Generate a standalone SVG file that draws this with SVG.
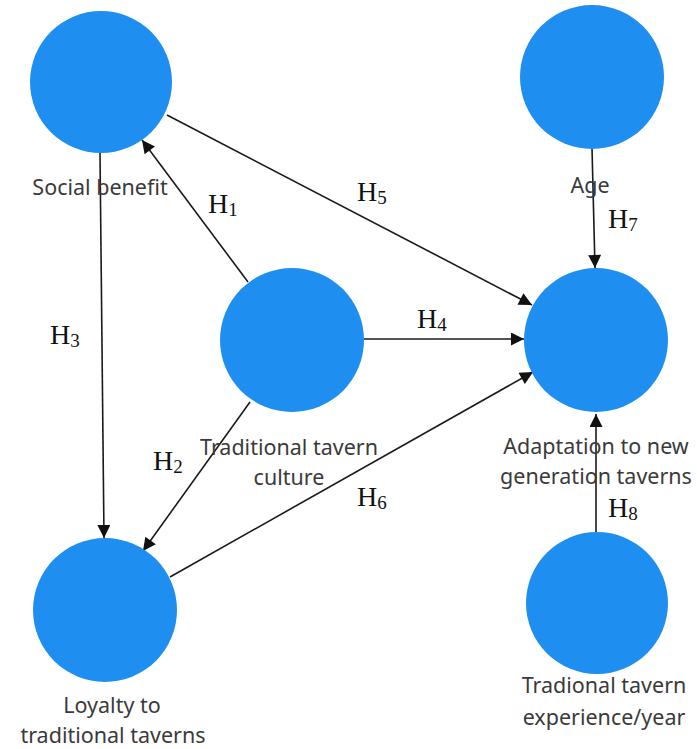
<svg xmlns="http://www.w3.org/2000/svg" width="697" height="749" viewBox="0 0 697 749">
<style>
.node{fill:#1e8ff0;}
.lbl{font-family:"Noto Sans","Open Sans",sans-serif;font-size:21.5px;fill:#3a3a3a;text-anchor:middle;}
.h{font-family:"Liberation Serif","Times New Roman",serif;font-size:28px;fill:#111;}
.sub{font-size:19px;}
.edge{stroke:#1a1a1a;stroke-width:1.6;fill:none;marker-end:url(#arr);}
</style>
<defs>
<marker id="arr" viewBox="0 0 10 10" refX="10" refY="5" markerUnits="userSpaceOnUse" markerWidth="15" markerHeight="13" orient="auto">
<path d="M0,0 L10,5 L0,10 z" fill="#111"/>
</marker>
</defs>
<rect width="697" height="749" fill="#fff"/>
<g id="connectors">
<line class="edge" x1="100" y1="153" x2="104" y2="538"/>
<line class="edge" x1="248" y1="282" x2="142" y2="140"/>
<line class="edge" x1="167" y1="115" x2="532" y2="305"/>
<line class="edge" x1="364" y1="339" x2="524" y2="339"/>
<line class="edge" x1="170" y1="577" x2="533" y2="372"/>
<line class="edge" x1="250" y1="402" x2="143" y2="551"/>
<line class="edge" x1="592" y1="148" x2="595" y2="268"/>
<line class="edge" x1="596" y1="532" x2="596" y2="414"/>
</g>
<g id="node-social">
<circle class="node" cx="101" cy="82" r="71"/>
<text class="lbl" x="100" y="195">Social benefit</text>
</g>
<g id="node-age">
<circle class="node" cx="592" cy="77" r="72"/>
<text class="lbl" x="590" y="193">Age</text>
</g>
<g id="node-culture">
<circle class="node" cx="292" cy="340" r="72"/>
<text class="lbl" x="289" y="455">Traditional tavern</text>
<text class="lbl" x="289" y="485">culture</text>
</g>
<g id="node-adaptation">
<circle class="node" cx="596" cy="340" r="72"/>
<text class="lbl" x="596" y="454">Adaptation to new</text>
<text class="lbl" x="596" y="484">generation taverns</text>
</g>
<g id="node-loyalty">
<circle class="node" cx="105" cy="610" r="72"/>
<text class="lbl" x="112" y="713">Loyalty to</text>
<text class="lbl" x="113" y="743">traditional taverns</text>
</g>
<g id="node-experience">
<circle class="node" cx="597" cy="603" r="71"/>
<text class="lbl" x="604" y="693">Tradional tavern</text>
<text class="lbl" x="604" y="725">experience/year</text>
</g>
<g id="hypotheses">
<text class="h" x="208" y="213">H<tspan class="sub" dy="3">1</tspan></text>
<text class="h" x="153" y="470">H<tspan class="sub" dy="3">2</tspan></text>
<text class="h" x="50" y="344">H<tspan class="sub" dy="3">3</tspan></text>
<text class="h" x="417" y="328">H<tspan class="sub" dy="3">4</tspan></text>
<text class="h" x="357" y="201">H<tspan class="sub" dy="3">5</tspan></text>
<text class="h" x="357" y="506">H<tspan class="sub" dy="3">6</tspan></text>
<text class="h" x="608" y="228">H<tspan class="sub" dy="3">7</tspan></text>
<text class="h" x="608" y="517">H<tspan class="sub" dy="3">8</tspan></text>
</g>
</svg>
